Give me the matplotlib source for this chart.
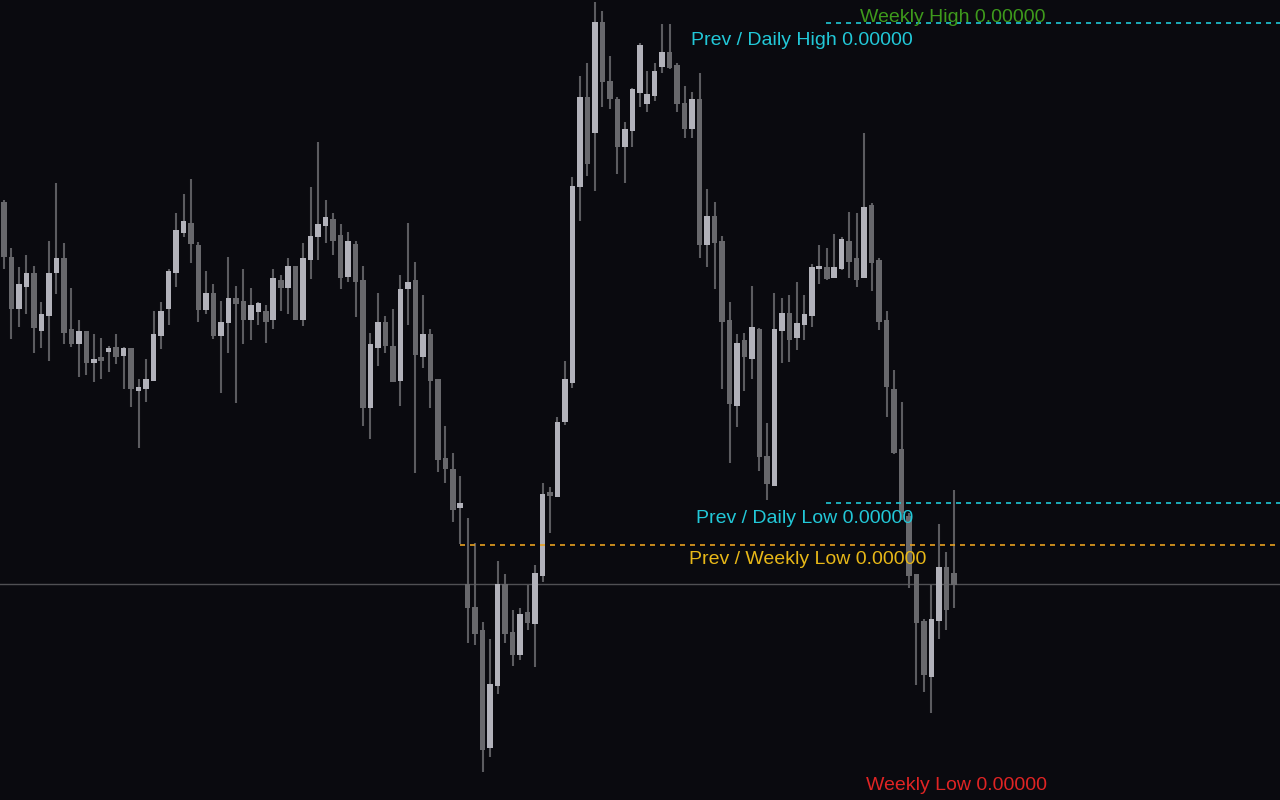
import numpy as np
import matplotlib
matplotlib.use("Agg")
import matplotlib.pyplot as plt

# candle data (open, high, low, close)
opens = [598, 543, 491, 513, 527, 469, 484, 527, 542, 471, 456, 469, 437, 443, 448, 453,
         444, 452, 409, 411, 419, 464, 491, 527, 567, 577, 555, 490, 507, 464, 477, 502,
         499, 480, 488, 489, 480, 520, 512, 534, 480, 540, 563, 574, 581, 565, 523, 556,
         520, 392, 452, 478, 454, 419, 511, 520, 443, 466, 421, 342, 331, 292, 216, 193,
         170, 52, 114, 216, 168, 145, 188, 176, 224, 308, 303, 378, 417, 613, 703, 667,
         778, 719, 701, 653, 669, 707, 696, 704, 733, 748, 735, 697, 671, 701, 555, 584,
         559, 480, 394, 460, 441, 471, 344, 314, 469, 487, 462, 475, 484, 531, 533, 522,
         531, 559, 542, 522, 595, 540, 480, 411, 351, 284, 226, 179, 123, 179, 233, 227]
highs = [600, 552, 533, 545, 534, 498, 559, 617, 557, 512, 480, 469, 466, 462, 454, 466,
         453, 452, 421, 441, 489, 498, 531, 587, 606, 621, 558, 529, 516, 499, 543, 514,
         531, 512, 498, 495, 531, 525, 542, 534, 557, 613, 658, 600, 587, 576, 568, 559,
         534, 467, 507, 484, 491, 525, 577, 538, 505, 471, 421, 374, 347, 324, 282, 257,
         178, 161, 239, 226, 190, 192, 215, 235, 317, 313, 383, 439, 623, 724, 737, 798,
         789, 744, 703, 678, 712, 757, 729, 737, 776, 776, 737, 714, 708, 727, 611, 598,
         564, 498, 466, 467, 514, 472, 377, 507, 502, 505, 518, 505, 536, 555, 552, 566,
         563, 588, 587, 667, 597, 542, 489, 430, 398, 287, 226, 181, 215, 276, 248, 310]
lows = [531, 461, 473, 486, 447, 452, 439, 506, 456, 453, 423, 425, 418, 421, 428, 436,
        411, 393, 352, 398, 419, 451, 475, 513, 563, 537, 478, 486, 461, 407, 447, 397,
        456, 460, 475, 457, 471, 489, 486, 480, 474, 521, 540, 557, 545, 511, 518, 483,
        374, 361, 434, 447, 418, 394, 475, 327, 432, 392, 328, 317, 278, 256, 157, 155,
        28, 43, 106, 157, 134, 140, 170, 133, 218, 267, 303, 375, 412, 579, 624, 609,
        693, 691, 626, 617, 653, 693, 688, 699, 727, 731, 688, 662, 662, 542, 533, 511,
        411, 337, 373, 409, 421, 329, 300, 314, 437, 438, 450, 460, 473, 516, 520, 522,
        530, 522, 513, 522, 509, 470, 383, 346, 280, 212, 115, 108, 87, 161, 170, 192]
closes = [543, 491, 516, 527, 472, 486, 527, 542, 467, 456, 469, 437, 441, 439, 452, 443,
          452, 411, 413, 421, 466, 489, 529, 570, 579, 556, 490, 507, 464, 478, 502, 496,
          480, 495, 497, 478, 522, 512, 534, 480, 542, 564, 576, 583, 559, 522, 559, 518,
          392, 456, 478, 454, 418, 511, 518, 445, 466, 419, 340, 331, 290, 297, 192, 166,
          50, 116, 216, 166, 145, 186, 177, 227, 306, 304, 378, 421, 614, 703, 636, 778,
          718, 701, 653, 671, 711, 755, 706, 729, 748, 732, 696, 671, 701, 555, 584, 557,
          478, 396, 457, 443, 473, 343, 316, 471, 487, 460, 477, 486, 533, 534, 521, 533,
          561, 538, 520, 593, 537, 478, 413, 347, 287, 224, 177, 125, 181, 233, 190, 215]

# level lines and their labels
daily_high = 777
daily_low = 297
weekly_low_prev = 255
last_price = 216

bg = "#0a0a0f"
bull_col = "#b2b2ba"
bear_col = "#68686c"
wick_col = "#5c5c60"

o = np.array(opens, float)
h = np.array(highs, float)
l = np.array(lows, float)
c = np.array(closes, float)
x = np.arange(len(o))

fig = plt.figure(figsize=(12.8, 8), dpi=100, facecolor=bg)
ax = fig.add_axes([0, 0, 1, 1])
ax.set_facecolor(bg)
ax.set_xlim(-0.535, 170.6)
ax.set_ylim(0, 800)
ax.axis("off")

# current price line
ax.axhline(last_price, color="#505054", lw=1.0, zorder=1)

# wicks
ax.vlines(x, l, h, color=wick_col, lw=1.5, zorder=2)

# bodies
up = c >= o
bottom = np.minimum(o, c)
height = np.maximum(np.abs(c - o), 2.0)
colors = np.where(up, bull_col, bear_col)
ax.bar(x, height, width=0.74, bottom=bottom, color=colors, linewidth=0, zorder=3)

# level lines
dash = (0, (3, 3))
ax.hlines(daily_high, 109.9, 171, color="#1fc8d6", lw=1.2, linestyles=dash, zorder=4)
ax.hlines(daily_low, 109.9, 171, color="#1fc8d6", lw=1.2, linestyles=dash, zorder=4)
ax.hlines(weekly_low_prev, 61.0, 171, color="#e6a020", lw=1.2, linestyles=dash, zorder=4)

fs = 14
font = "Liberation Sans"
ax.text(139.2, 783, "Weekly High 0.00000", color="#3e9a1c", fontsize=fs,
        family=font, ha="right", va="center", zorder=5)
ax.text(121.5, 759.5, "Prev / Daily High 0.00000", color="#22c8d8", fontsize=fs,
        family=font, ha="right", va="center", zorder=5)
ax.text(121.5, 281.5, "Prev / Daily Low 0.00000", color="#22c8d8", fontsize=fs,
        family=font, ha="right", va="center", zorder=5)
ax.text(123.3, 241, "Prev / Weekly Low 0.00000", color="#e8b818", fontsize=fs,
        family=font, ha="right", va="center", zorder=5)
ax.text(139.4, 15, "Weekly Low 0.00000", color="#e02424", fontsize=fs,
        family=font, ha="right", va="center", zorder=5)

fig.savefig("out.png", dpi=100, facecolor=bg)
